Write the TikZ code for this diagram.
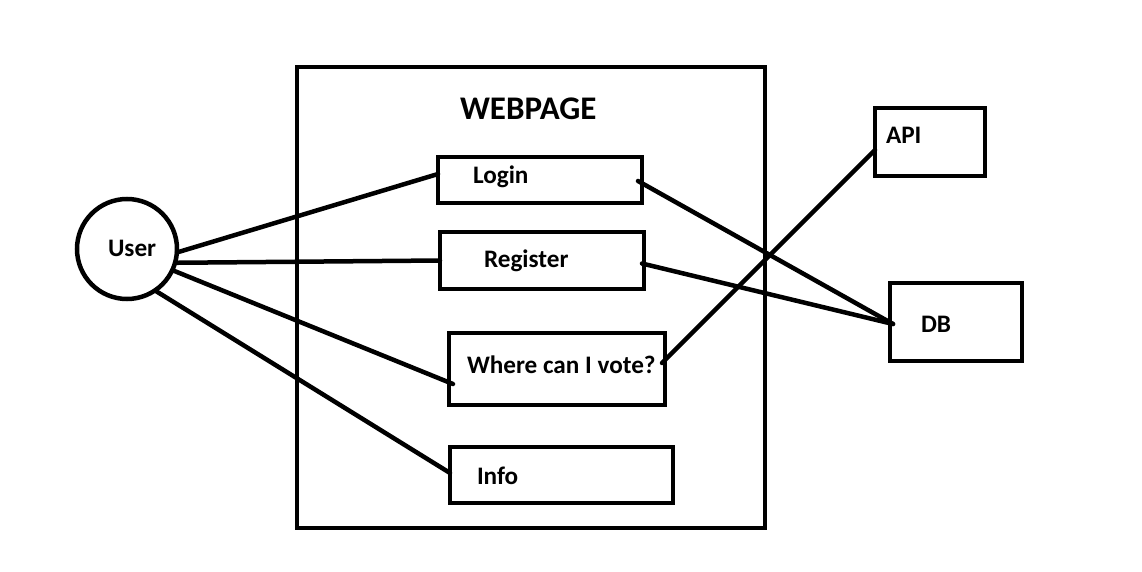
\documentclass[tikz,border=0pt]{standalone}
\usepackage{fontspec}
\setmainfont{Carlito}
\usepackage{tikz}

\begin{document}
\begin{tikzpicture}[y=-1pt, x=1pt, inner sep=0pt, outer sep=0pt,
  box/.style={draw=black,line width=4.5pt,rectangle},
  lbl/.style={anchor=base west,font=\fontsize{25.2}{26}\selectfont\bfseries},
  wire/.style={draw=black,line join=miter,line cap=round,line width=4.5pt}]
  \useasboundingbox (0,0) rectangle (1142,572);
  \node[box,minimum width=468pt,minimum height=461pt] (rect3001) at (531,297.5) {};
  \node[box,circle,minimum size=100pt] (path3010) at (127,249) {};
  \node[box,minimum width=204pt,minimum height=46pt] (rect3020) at (540,180) {};
  \node[box,minimum width=204pt,minimum height=57pt] (rect3020-1) at (542,260.5) {};
  \node[box,minimum width=216pt,minimum height=72pt] (rect3020-2) at (557,369) {};
  \node[box,minimum width=223pt,minimum height=56pt] (rect3020-3) at (561.5,475) {};
  \node[box,minimum width=110pt,minimum height=68pt] (rect3040) at (930,142) {};
  \node[box,minimum width=132pt,minimum height=78pt] (rect3040-1) at (956,322) {};
  \node[lbl,font=\fontsize{33}{33}\selectfont\bfseries] (text4001) at (460,120) {WEBPAGE};
  \node[lbl] (text4002) at (108,256) {User};
  \node[lbl] (text4003) at (473,184) {Login};
  \node[lbl] (text4003-1) at (484,267) {Register};
  \node[lbl] (text4003-2) at (467,373) {Where can I vote?};
  \node[lbl] (text4003-3) at (477,484) {Info};
  \node[lbl] (text4004) at (886,144) {API};
  \node[lbl] (text4004-1) at (921,332) {DB};
  \path[wire] (path3010.-4) -- ([shift={(0,-6)}]rect3020.west);
  \path[wire] (path3010.-16) -- (rect3020-1.west);
  \path[wire] (path3010.-25) -- ([shift={(4,15)}]rect3020-2.west);
  \path[wire] (path3010.-56) -- ([shift={(0,-2)}]rect3020-3.west);
  \path[wire] ([shift={(-4,1)}]rect3020.east) -- ([shift={(3,2)}]rect3040-1.west);
  \path[wire] ([shift={(-2,3)}]rect3020-1.east) -- ([shift={(3,2)}]rect3040-1.west);
  \path[wire] ([shift={(-3,-6)}]rect3020-2.east) -- ([shift={(0,8)}]rect3040.west);
\end{tikzpicture}
\end{document}
